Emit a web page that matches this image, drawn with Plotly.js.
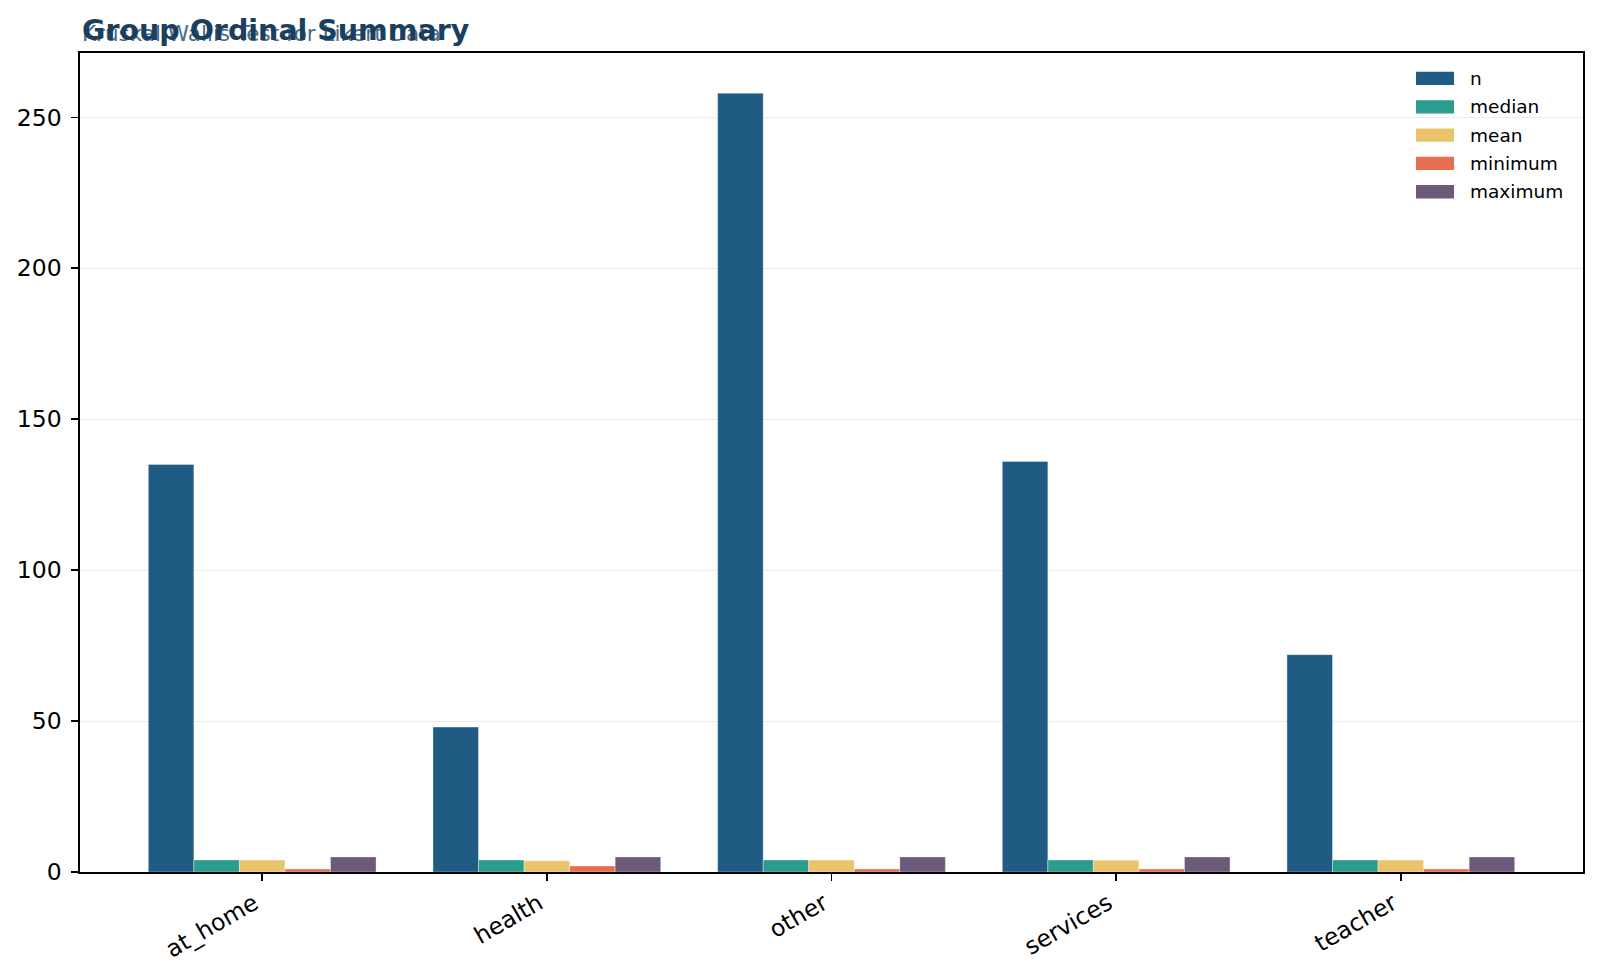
<!DOCTYPE html>
<html>
<head>
<meta charset="utf-8">
<script src="https://cdn.plot.ly/plotly-3.0.1.min.js"></script>
<style>
  html, body { margin: 0; padding: 0; background: #fff; }
  #chart { width: 1600px; height: 978px; }
</style>
</head>
<body>
<div id="chart"></div>
<script>
// groups and summary stats
const groups = ["at_home", "health", "other", "services", "teacher"];
const nVals = [135, 48, 258, 136, 72];
const medianVals = [4, 4, 4, 4, 4];
const meanVals = [3.95, 3.7, 3.95, 3.9, 3.95];
const minVals = [1, 2, 1, 1, 1];
const maxVals = [5, 5, 5, 5, 5];

const seriesNames = ["n", "median", "mean", "minimum", "maximum"];
const seriesColors = ["#1f5b82", "#2a9d8f", "#e9c46a", "#e76f51", "#6d5a7b"];
const seriesValues = [nVals, medianVals, meanVals, minVals, maxVals];

const font = "DejaVu Sans, sans-serif";

const data = seriesNames.map((name, i) => ({
    type: "bar",
    name: name,
    x: groups,
    y: seriesValues[i],
    marker: {
        color: seriesColors[i],
        line: { color: "rgba(255,255,255,0.6)", width: 0.6 },
    },
}));

// legend drawn by hand so the swatches are wide rectangles like matplotlib's
const legendShapes = [];
const legendLabels = [];
seriesNames.forEach((name, i) => {
    const yc = 0.9689 - i * 0.03458;
    legendShapes.push({
        type: "rect",
        xref: "paper", yref: "paper",
        x0: 0.8889, x1: 0.9142,
        y0: yc - 0.0081, y1: yc + 0.0081,
        fillcolor: seriesColors[i],
        line: { width: 0 },
    });
    legendLabels.push({
        text: name,
        xref: "paper", yref: "paper",
        x: 0.9235, y: yc,
        xanchor: "left", yanchor: "middle",
        showarrow: false,
        font: { size: 18.5, family: font, color: "#000" },
    });
});

const layout = {
    width: 1600,
    height: 978,
    margin: { l: 80, r: 17, t: 53, b: 106 },
    paper_bgcolor: "#fff",
    plot_bgcolor: "#fff",
    font: { family: font, color: "#000" },
    barmode: "group",
    bargap: 0.2,
    bargroupgap: 0,
    showlegend: false,
    xaxis: {
        range: [-0.64, 4.64],
        tickangle: -30,
        tickfont: { size: 23.5, family: font },
        ticklabelshift: -8,
        ticks: "outside",
        ticklen: 7,
        tickwidth: 1.5,
        tickcolor: "#000",
        showgrid: false,
        showline: true,
        linecolor: "#000",
        linewidth: 1.6,
        mirror: true,
        zeroline: false,
    },
    yaxis: {
        range: [0, 271.3],
        tickvals: [0, 50, 100, 150, 200, 250],
        tickfont: { size: 23.5, family: font },
        ticklabelstandoff: 5,
        ticks: "outside",
        ticklen: 7,
        tickwidth: 1.5,
        tickcolor: "#000",
        showgrid: true,
        gridcolor: "#ebebeb",
        gridwidth: 1,
        showline: true,
        linecolor: "#000",
        linewidth: 1.6,
        mirror: true,
        zeroline: false,
    },
    shapes: legendShapes,
    annotations: [
        {
            text: "Kruskal-Wallis Test for Likert Data",
            xref: "paper", yref: "paper",
            x: 0, y: 1.0, xanchor: "left", yanchor: "bottom",
            yshift: 5,
            showarrow: false,
            font: { size: 21.5, family: font, color: "#4a6b85" },
        },
        {
            text: "<b>Group Ordinal Summary</b>",
            xref: "paper", yref: "paper",
            x: 0, y: 1.0, xanchor: "left", yanchor: "bottom",
            yshift: 4,
            showarrow: false,
            font: { size: 28.5, family: font, color: "#1b3f5e" },
        },
    ].concat(legendLabels),
};

Plotly.newPlot("chart", data, layout, { displayModeBar: false, staticPlot: true });
</script>
</body>
</html>
